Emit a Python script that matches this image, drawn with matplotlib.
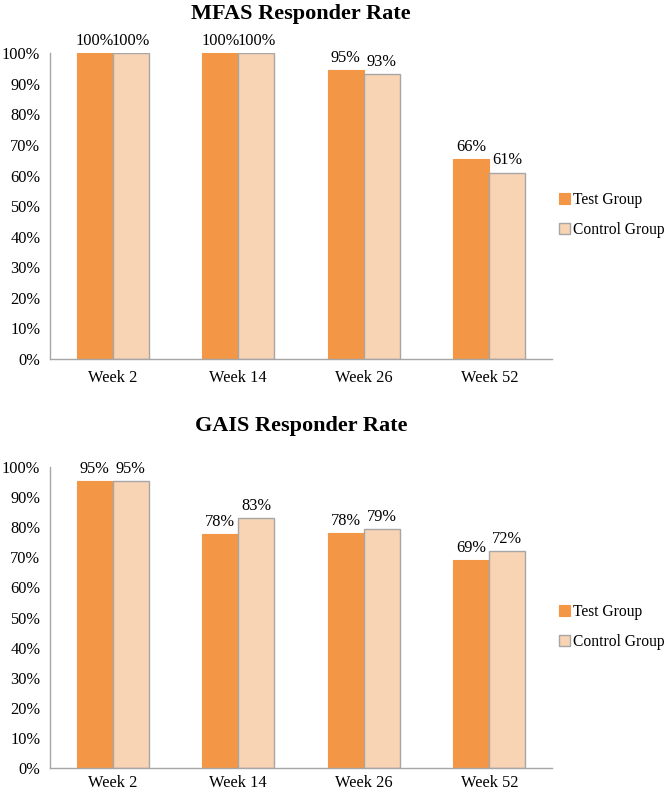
import matplotlib
matplotlib.use("Agg")
import matplotlib.pyplot as plt
import numpy as np

plt.rcParams['font.family'] = ['Liberation Serif', 'DejaVu Serif']

weeks = ["Week 2", "Week 14", "Week 26", "Week 52"]
mfas_test = [100, 100, 94.5, 65.5]
mfas_control = [100, 100, 93.2, 61.0]
mfas_test_labels = ["100%", "100%", "95%", "66%"]
mfas_control_labels = ["100%", "100%", "93%", "61%"]

gais_test = [95.3, 77.8, 78.2, 69.0]
gais_control = [95.3, 83.0, 79.4, 72.1]
gais_test_labels = ["95%", "78%", "78%", "69%"]
gais_control_labels = ["95%", "83%", "79%", "72%"]

yticks = list(range(0, 101, 10))
ytick_labels = [f"{v}%" for v in yticks]

test_color = "#F39646"
control_color = "#F9D4B4"
edge_grey = "#A6A6A6"
FS = 11.8

fig = plt.figure(figsize=(6.66, 7.96), dpi=100)

def draw(ax, title, test, control, tl, cl, xpad, tpad):
    x = np.arange(len(weeks))
    w = 0.287
    b1 = ax.bar(x - w/2, test, w, color=test_color, edgecolor=test_color, linewidth=0.8, label="Test Group")
    b2 = ax.bar(x + w/2, control, w, color=control_color, edgecolor=edge_grey, linewidth=1.0, label="Control Group")
    for rect, lab in zip(b1, tl):
        ax.annotate(lab, (rect.get_x() + rect.get_width()/2, rect.get_height()),
                    xytext=(0, 3), textcoords="offset points", ha="center", va="bottom", fontsize=FS)
    for rect, lab in zip(b2, cl):
        ax.annotate(lab, (rect.get_x() + rect.get_width()/2, rect.get_height()),
                    xytext=(0, 3), textcoords="offset points", ha="center", va="bottom", fontsize=FS)
    ax.set_xlim(-0.5, len(weeks) - 0.5)
    ax.set_ylim(0, 100)
    ax.set_yticks(yticks)
    ax.set_yticklabels(ytick_labels, fontsize=FS)
    ax.set_xticks(x)
    ax.set_xticklabels(weeks, fontsize=FS)
    ax.tick_params(axis="x", length=0, pad=xpad)
    ax.tick_params(axis="y", length=0, pad=7)
    for s in ["top", "right"]:
        ax.spines[s].set_visible(False)
    for s in ["left", "bottom"]:
        ax.spines[s].set_color(edge_grey)
        ax.spines[s].set_linewidth(1.0)
    ax.set_title(title, fontsize=16, fontweight="bold", pad=tpad)
    ax.legend(loc="center left", bbox_to_anchor=(0.995, 0.47), frameon=False, fontsize=11.2,
              handlelength=0.7, handleheight=0.7, handletextpad=0.2, labelspacing=0.9,
              borderaxespad=0.2)
    return ax

ax1 = fig.add_axes([0.075, 0.549, 0.754, 0.384])
draw(ax1, "MFAS Responder Rate", mfas_test, mfas_control, mfas_test_labels, mfas_control_labels, 8, 25)
ax2 = fig.add_axes([0.075, 0.0352, 0.754, 0.378])
draw(ax2, "GAIS Responder Rate", gais_test, gais_control, gais_test_labels, gais_control_labels, 5, 26)

fig.savefig("out.png", dpi=100)
